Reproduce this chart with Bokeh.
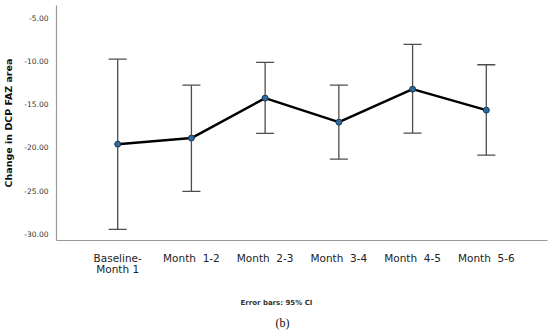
from bokeh.plotting import figure
from bokeh.models import (ColumnDataSource, Whisker, TeeHead, FixedTicker,
                          NumeralTickFormatter, Title, Range1d, FactorRange)
from bokeh.embed import file_html
from bokeh.resources import INLINE

NB = "\u00a0"
categories = ["Baseline-\nMonth 1", "Month" + NB + NB + "1-2", "Month" + NB + NB + "2-3",
              "Month" + NB + NB + "3-4", "Month" + NB + NB + "4-5", "Month" + NB + NB + "5-6"]
means = [-19.63, -18.93, -14.30, -17.08, -13.26, -15.69]
upper_ci = [-9.79, -12.80, -10.17, -12.80, -8.09, -10.44]
lower_ci = [-29.50, -25.10, -18.39, -21.36, -18.36, -20.90]
y_ticks = [-30, -25, -20, -15, -10, -5]

src = ColumnDataSource(dict(cat=categories, mean=means, upper=upper_ci, lower=lower_ci))

p = figure(width=550, height=333, output_backend="svg", toolbar_location=None,
           x_range=FactorRange(factors=categories, range_padding=0.33,
                               range_padding_units="absolute"),
           y_range=Range1d(-30.78, -3.58),
           min_border_left=54, min_border_right=3, min_border_top=5,
           min_border_bottom=93)
p.outline_line_color = None
p.xgrid.visible = False
p.ygrid.visible = False
p.background_fill_color = "white"

err_color = "#4d4d4d"
w = Whisker(base="cat", upper="upper", lower="lower", source=src,
            line_color=err_color, line_width=1.3,
            upper_head=TeeHead(size=18, line_color=err_color, line_width=1.3),
            lower_head=TeeHead(size=18, line_color=err_color, line_width=1.3))
p.add_layout(w)

p.line("cat", "mean", source=src, line_color="black", line_width=2.5)
p.scatter("cat", "mean", source=src, size=6, fill_color="#2f6a9a",
          line_color="#1c3b57", line_width=1)

# axes
p.yaxis.ticker = FixedTicker(ticks=y_ticks)
p.yaxis.formatter = NumeralTickFormatter(format="0.00")
p.yaxis.axis_label = "Change in DCP FAZ area"
p.yaxis.axis_label_text_font = "DejaVu Sans"
p.yaxis.axis_label_text_font_style = "bold"
p.yaxis.axis_label_text_font_size = "9.5px"
p.yaxis.axis_label_text_color = "#111111"
p.yaxis.axis_label_standoff = 7
p.yaxis.major_label_text_font = "DejaVu Sans"
p.yaxis.major_label_text_font_size = "7.5px"
p.yaxis.major_label_text_color = "#333333"
p.yaxis.major_label_standoff = 2

for ax in (p.xaxis, p.yaxis):
    ax.major_tick_line_color = None
    ax.minor_tick_line_color = None
    ax.axis_line_color = "#9a9a9a"
    ax.axis_line_width = 1.2

p.xaxis.major_label_text_font = "DejaVu Sans"
p.xaxis.major_label_text_font_size = "10.5px"
p.xaxis.major_label_text_color = "#222222"
p.xaxis.major_label_standoff = 5
p.xaxis.major_label_text_line_height = 0.95

spacer = Title(text=NB, text_font_size="2px", standoff=12)
t1 = Title(text="Error bars: 95% CI", align="left", offset=184,
           text_font="DejaVu Sans", text_font_style="bold",
           text_font_size="7px", text_color="#333333", standoff=6)
t2 = Title(text="(b)", align="left", offset=219,
           text_font="Liberation Serif", text_font_style="normal",
           text_font_size="12px", text_color="#111111", standoff=8)
p.add_layout(spacer, "below")
p.add_layout(t1, "below")
p.add_layout(t2, "below")

open("out.html", "w").write(file_html(p, INLINE))
